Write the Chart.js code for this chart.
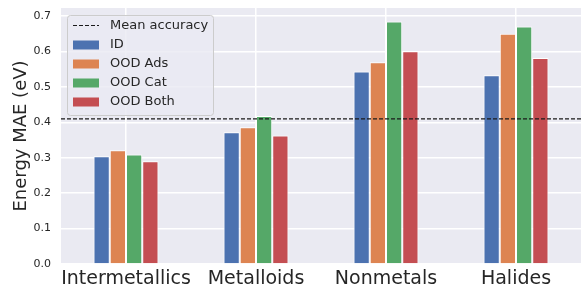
<!DOCTYPE html>
<html>
<head>
<meta charset="utf-8">
<script src="https://cdn.jsdelivr.net/npm/chart.js@4/dist/chart.umd.min.js"></script>
<style>
    html, body { margin: 0; padding: 0; background: #ffffff; }
    #wrap { width: 581px; height: 293px; }
</style>
</head>
<body>
<div id="wrap"><canvas id="maeChart" width="581" height="293"></canvas></div>
<script>
// chart values
const categories = ['Intermetallics', 'Metalloids', 'Nonmetals', 'Halides'];
const seriesNames = ['ID', 'OOD Ads', 'OOD Cat', 'OOD Both'];
const idValues = [0.304, 0.372, 0.544, 0.533];
const oodAdsValues = [0.321, 0.386, 0.570, 0.650];
const oodCatValues = [0.309, 0.418, 0.685, 0.671];
const oodBothValues = [0.290, 0.363, 0.601, 0.582];
const meanAccuracy = 0.410;
const yTicks = [0.0, 0.1, 0.2, 0.3, 0.4, 0.5, 0.6, 0.7];

const colors = ['#4C72B0', '#DD8452', '#55A868', '#C44E52'];
const textColor = '#262626';
const font = "'DejaVu Sans', sans-serif";

// grey plot background, seaborn style
const plotBackground = {
    id: 'plotBackground',
    beforeDraw(chart) {
        const { ctx, chartArea } = chart;
        ctx.save();
        ctx.fillStyle = '#EAEAF2';
        ctx.fillRect(chartArea.left, chartArea.top, chartArea.right - chartArea.left, chartArea.bottom - chartArea.top);
        ctx.restore();
    }
};

// dashed mean line + legend box in the upper left
const meanLineAndLegend = {
    id: 'meanLineAndLegend',
    afterDatasetsDraw(chart) {
        const { ctx, chartArea } = chart;
        const y = chart.scales.y.getPixelForValue(meanAccuracy);
        ctx.save();
        ctx.strokeStyle = '#1a1a1a';
        ctx.lineWidth = 1.2;
        ctx.setLineDash([4, 2]);
        ctx.beginPath();
        ctx.moveTo(chartArea.left, y);
        ctx.lineTo(chartArea.right, y);
        ctx.stroke();
        ctx.restore();

        // legend
        const bx = 67, by = 15, bw = 146, bh = 100;
        ctx.save();
        ctx.fillStyle = 'rgba(234,234,242,0.8)';
        ctx.strokeStyle = '#cccccc';
        ctx.lineWidth = 1;
        ctx.beginPath();
        ctx.roundRect(bx + 0.5, by + 0.5, bw, bh, 3);
        ctx.fill();
        ctx.stroke();

        ctx.font = '13px ' + font;
        ctx.fillStyle = textColor;
        ctx.textBaseline = 'middle';
        const rowY = [25.5, 45, 64, 83, 102];
        ctx.strokeStyle = '#1a1a1a';
        ctx.lineWidth = 1.2;
        ctx.setLineDash([4, 2]);
        ctx.beginPath();
        ctx.moveTo(73, rowY[0]);
        ctx.lineTo(99, rowY[0]);
        ctx.stroke();
        ctx.setLineDash([]);
        ctx.fillText('Mean accuracy', 110, rowY[0]);
        seriesNames.forEach((name, i) => {
            ctx.fillStyle = colors[i];
            ctx.fillRect(73, rowY[i + 1] - 4.5, 26, 9);
            ctx.fillStyle = textColor;
            ctx.fillText(name, 110, rowY[i + 1]);
        });
        ctx.restore();
    }
};

const seriesValues = [idValues, oodAdsValues, oodCatValues, oodBothValues];

new Chart(document.getElementById('maeChart').getContext('2d'), {
    type: 'bar',
    data: {
        labels: categories,
        datasets: seriesNames.map((name, i) => ({
            label: name,
            data: seriesValues[i],
            backgroundColor: colors[i],
            borderColor: '#ffffff',
            borderWidth: 1,
            categoryPercentage: 0.5,
            barPercentage: 1.0
        }))
    },
    options: {
        responsive: false,
        animation: false,
        layout: { padding: { top: 8, right: 0, left: 0, bottom: 0 } },
        scales: {
            x: {
                grid: { color: '#ffffff', lineWidth: 1.5, offset: false, drawTicks: false },
                border: { display: false },
                ticks: {
                    color: textColor,
                    font: { family: font, size: 19 },
                    padding: 4,
                    maxRotation: 0,
                    autoSkip: false
                },
                afterFit(scale) {
                    scale.height = 29;
                    scale.paddingLeft = 0;
                    scale.paddingRight = 0;
                }
            },
            y: {
                min: 0,
                max: 0.723,
                afterBuildTicks(scale) {
                    scale.ticks = yTicks.map(v => ({ value: v }));
                },
                grid: { color: '#ffffff', lineWidth: 1.5, drawTicks: false },
                border: { display: false },
                ticks: {
                    color: textColor,
                    font: { family: font, size: 11 },
                    padding: 10,
                    callback: v => Number(v).toFixed(1)
                },
                title: {
                    display: true,
                    text: 'Energy MAE (eV)',
                    color: textColor,
                    font: { family: font, size: 18 },
                    padding: { top: 11, bottom: 0 }
                },
                afterFit(scale) {
                    scale.width = 61;
                    scale.paddingTop = 0;
                    scale.paddingBottom = 0;
                }
            }
        },
        plugins: {
            legend: { display: false },
            tooltip: { enabled: false }
        }
    },
    plugins: [plotBackground, meanLineAndLegend]
});
</script>
</body>
</html>
